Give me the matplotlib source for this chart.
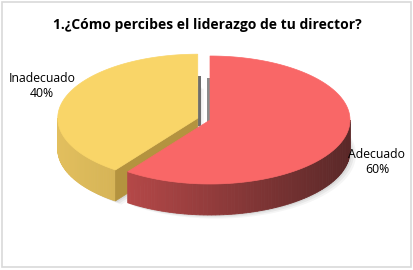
import numpy as np
import matplotlib
matplotlib.use("Agg")
import matplotlib.pyplot as plt
from matplotlib.colors import to_rgb

TITLE = "1.¿Cómo percibes el liderazgo de tu director?"
LABELS = ["Adecuado", "Inadecuado"]
VALUES = [60, 40]
TOP_COLORS = ["#F96767", "#F9D568"]
SIDE_LIGHT = ["#CC5050", "#E2BF5E"]
SIDE_DARK = ["#5A2828", "#A8893A"]
FACE_COLORS = ["#7A3333", "#B4933F"]
EXPLODE = [0.0, 0.092]

W, H = 414, 270
CX, CY = 210, 120
RX, RY = 140, 64
DEPTH = 31


def pt(t, cx, cy, z=0.0):
    return cx + RX * np.cos(t), cy - RY * np.sin(t) + z


def mix(c1, c2, f):
    a, b = np.array(to_rgb(c1)), np.array(to_rgb(c2))
    return tuple(a + (b - a) * f)


def lower_parts(lo, hi):
    parts = []
    for k in (-2, -1, 0, 1):
        a, b = max(lo, -np.pi + 2 * np.pi * k), min(hi, 2 * np.pi * k)
        if b > a:
            parts.append((a, b))
    return parts


fig = plt.figure(figsize=(W / 100, H / 100), dpi=100)
ax = fig.add_axes([0, 0, 1, 1])
ax.set_xlim(0, W)
ax.set_ylim(H, 0)
ax.axis("off")

# slice geometry: start at 12 o'clock, clockwise
total = float(sum(VALUES))
slices = []
start = np.pi / 2
for i, v in enumerate(VALUES):
    a0 = start
    a1 = start - 2 * np.pi * v / total
    mid = (a0 + a1) / 2
    cx = CX + EXPLODE[i] * RX * np.cos(mid)
    cy = CY - EXPLODE[i] * RY * np.sin(mid)
    slices.append((i, a0, a1, mid, cx, cy))
    start = a1

# soft shadow
for off, al in [(6, 0.05), (4, 0.07), (2, 0.09)]:
    for i, a0, a1, mid, cx, cy in slices:
        ts = np.linspace(a1, a0, 120)
        xs, ys = pt(ts, cx + off, cy + off * 0.6, DEPTH)
        ax.fill(np.r_[cx + off, xs], np.r_[cy + off * 0.6 + DEPTH, ys],
                color="#404040", alpha=al, lw=0, zorder=1)

# edge-on faces at 12 o'clock, seen through the gap
for i, a0, a1, mid, cx, cy in slices:
    for a in (a0, a1):
        if abs(np.cos(a)) < 1e-6:
            left_slice = np.cos(mid) < 0
            x0 = cx + 0.3 if left_slice else cx - 2.8
            ax.add_patch(plt.Rectangle((x0, cy - RY + 22), 2.5, RY - 14,
                                       color="#6E6E6E" if left_slice else "#8C8C8C",
                                       lw=0, zorder=1.5))

# back to front
for i, a0, a1, mid, cx, cy in sorted(slices, key=lambda s: -np.sin(s[3])):
    z = 2 + (1 - np.sin(mid))
    # outer curved side
    for lo, hi in lower_parts(a1, a0):
        ts = np.linspace(lo, hi, 80)
        for t1, t2 in zip(ts[:-1], ts[1:]):
            x1, y1 = pt(t1, cx, cy)
            x2, y2 = pt(t2, cx, cy)
            f = (np.cos((t1 + t2) / 2) + 1) / 2
            c = mix(SIDE_LIGHT[i], SIDE_DARK[i], f)
            ax.fill([x1, x2, x2, x1], [y1, y2, y2 + DEPTH, y1 + DEPTH],
                    color=c, ec=c, lw=0.6, zorder=z)
    # radial faces
    for a, vis in [(a0, np.cos(a0) < -1e-6), (a1, np.cos(a1) > 1e-6)]:
        if vis:
            xe, ye = pt(a, cx, cy)
            ax.fill([cx, xe, xe, cx], [cy, ye, ye + DEPTH, cy + DEPTH],
                    color=FACE_COLORS[i], ec=FACE_COLORS[i], lw=0.5, zorder=z)
    # top
    ts = np.linspace(a1, a0, 200)
    xs, ys = pt(ts, cx, cy)
    ax.fill(np.r_[cx, xs], np.r_[cy, ys], color=TOP_COLORS[i],
            ec=TOP_COLORS[i], lw=0.5, zorder=z + 0.5)

# labels
ax.text(377, 162, f"{LABELS[0]}\n{VALUES[0]}%", ha="center", va="center",
        fontsize=8.8, family="Open Sans", linespacing=1.25, zorder=10)
ax.text(42, 86, f"{LABELS[1]}\n{VALUES[1]}%", ha="center", va="center",
        fontsize=8.8, family="Open Sans", linespacing=1.25, zorder=10)

ax.text(W / 2, 25, TITLE, ha="center", va="center", fontsize=10,
        weight="bold", family="Open Sans", zorder=10)

ax.add_patch(plt.Rectangle((2, 2), W - 5, H - 5, fill=False,
                           ec="#D9D9D9", lw=1.2, zorder=11))

fig.savefig("out.png", dpi=100)
